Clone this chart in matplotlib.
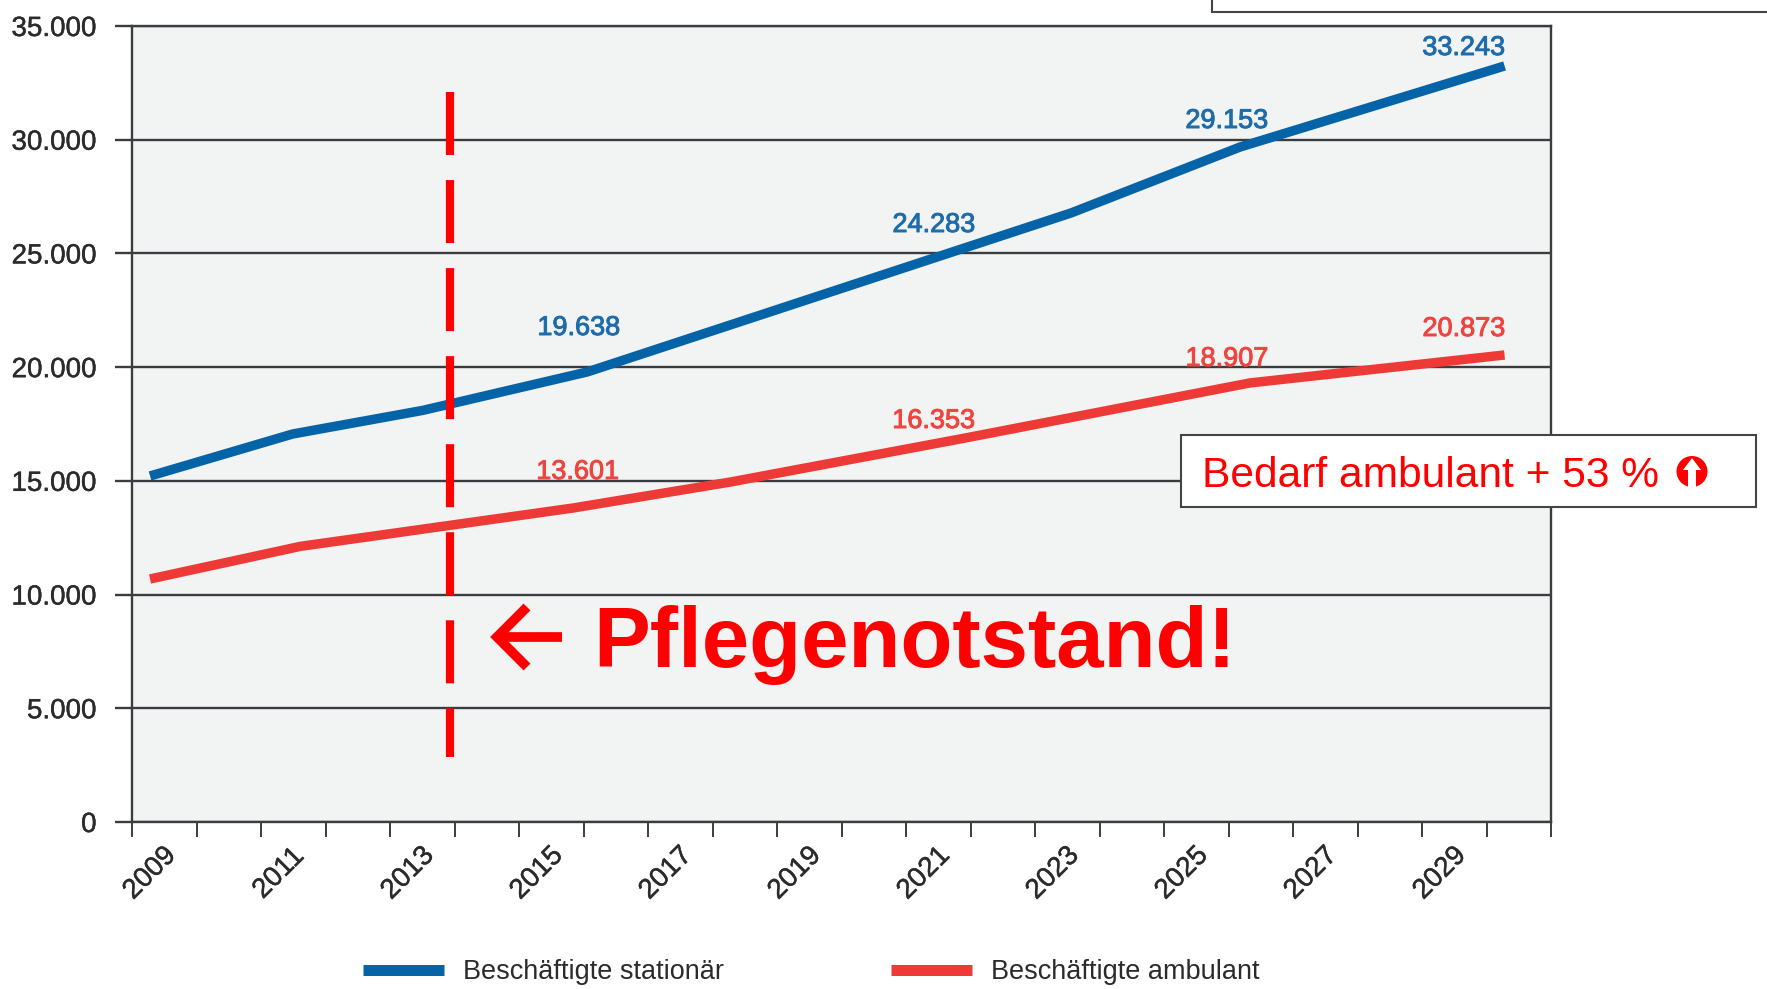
import matplotlib
matplotlib.use("Agg")
import matplotlib.pyplot as plt
import matplotlib.patheffects as pe
from matplotlib.lines import Line2D
from matplotlib.patches import Rectangle, Ellipse, Polygon

W, H = 1767, 989
tick_label_years = list(range(2009, 2030, 2))
yticks = [0, 5000, 10000, 15000, 20000, 25000, 30000, 35000]
ytick_labels = ["0", "5.000", "10.000", "15.000", "20.000", "25.000", "30.000", "35.000"]

stat_years = [2009, 2011.21, 2013.23, 2015.78, 2023.28, 2025.9, 2030]
stationaer = [15214, 17060, 18100, 19790, 26780, 29680, 33243]
amb_years = [2009, 2011.33, 2015.56, 2018, 2021.64, 2026.05, 2030]
ambulant = [10686, 12120, 13807, 14950, 16885, 19305, 20535]

stat_labels = ["19.638", "24.283", "29.153", "33.243"]
amb_labels = ["13.601", "16.353", "18.907", "20.873"]

sans = "Liberation Sans"
BLUE, RED, PURE = "#0563a8", "#ee3a36", "#ff0000"
DARK = "#3a3c40"
TXT = "#2b2b2b"


def bolden(w, color):
    return [pe.withStroke(linewidth=w, foreground=color)]


fig = plt.figure(figsize=(W / 100, H / 100), dpi=100)
L, R, T, B = 132, 1551, 26, 822
ax = fig.add_axes([L / W, 1 - B / H, (R - L) / W, (B - T) / H])
ax.set_facecolor("#f2f3f3")
x0 = 2009 - 0.28
ax.set_xlim(x0, x0 + 22)
ax.set_ylim(0, 35000)
for s in ["left", "right", "top", "bottom"]:
    ax.spines[s].set_color(DARK)
    ax.spines[s].set_linewidth(1.7)

ax.set_yticks(yticks, ytick_labels, family=sans, fontsize=20, color=TXT)
ax.tick_params(axis="y", length=12, width=1.7, color=DARK, pad=13.5)
ax.grid(axis="y", color=DARK, lw=1.7, zorder=1)
ax.set_axisbelow(True)

ax.set_xticks(tick_label_years, [str(y) for y in tick_label_years], rotation=45, ha="center", va="center",
              rotation_mode="anchor", family=sans, fontsize=20, color=TXT)
ax.tick_params(axis="x", which="major", length=0, pad=37)
ax.set_xticks([x0 + i for i in range(23)], minor=True)
ax.tick_params(axis="x", which="minor", length=10.8, width=1.4, color=DARK)
for lab in ax.get_xticklabels() + ax.get_yticklabels():
    lab.set_path_effects(bolden(0.3, TXT))

ax.plot(stat_years, stationaer, color=BLUE, lw=6.8, solid_capstyle="butt", solid_joinstyle="round",
        label="Beschäftigte stationär", zorder=3)
ax.plot(amb_years, ambulant, color=RED, lw=6.8, solid_capstyle="butt", solid_joinstyle="round",
        label="Beschäftigte ambulant", zorder=3)


def px(x, y, txt, **kw):
    return fig.text(x / W, 1 - y / H, txt, **kw)


for x, y, t in zip([579, 934, 1227, 1464], [328, 225, 121, 48], stat_labels):
    px(x, y, t, ha="center", va="center", family=sans, fontsize=19.5, color="#1d6cab", zorder=5,
       path_effects=bolden(0.7, "#1d6cab"))
for x, y, t in zip([578, 934, 1227, 1464], [472, 421, 359, 329], amb_labels):
    px(x, y, t, ha="center", va="center", family=sans, fontsize=19.5, color="#ee4540", zorder=5,
       path_effects=bolden(0.7, "#ee4540"))

# dashed marker line
ax.plot([2013.65, 2013.65], [32100, 2860], color=PURE, lw=5.9, dashes=(63 / 8.19, 25 / 8.19),
        dash_capstyle="butt", zorder=4)

px(593, 645, "Pflegenotstand!", family=sans, fontsize=61.3, fontweight="bold", color=PURE,
   ha="left", va="center", zorder=6)


def P(x, y):
    return (x / W, 1 - y / H)


tr = fig.transFigure
for xs, ys in [([527, 497, 527], [607, 637, 667]), ([497, 562], [637, 637])]:
    pts = [P(a, b) for a, b in zip(xs, ys)]
    fig.add_artist(Line2D([p[0] for p in pts], [p[1] for p in pts], transform=tr, color=PURE, lw=7,
                          solid_capstyle="butt", solid_joinstyle="miter", zorder=6))

leg = ax.legend(loc="center left", bbox_to_anchor=((363 - L) / (R - L), (B - 972) / (B - T)), ncol=2, frameon=False,
                prop={"family": sans, "size": 19.5}, labelcolor=TXT, handlelength=3.0, handletextpad=0.7,
                columnspacing=6.15, borderpad=0, borderaxespad=0)
for h in leg.get_lines():
    h.set_linewidth(7.9)

fig.add_artist(Rectangle(P(1181, 507), 575 / W, 72 / H, transform=tr, fc="white", ec="#444444", lw=1.5, zorder=5))
fig.add_artist(Rectangle(P(1212, 12), 600 / W, 40 / H, transform=tr, fc="white", ec="#444444", lw=1.5, zorder=5))
px(1202, 476, "Bedarf ambulant + 53 %", family=sans, fontsize=30.6, color=PURE, ha="left", va="center", zorder=6)
fig.add_artist(Ellipse(P(1692, 471.5), 31 / W, 31 / H, transform=tr, fc=PURE, ec="none", zorder=6))
fig.add_artist(Polygon([P(1692, 458), P(1701, 470), P(1696, 470), P(1696, 488), P(1688, 488), P(1688, 470), P(1683, 470)],
                       transform=tr, fc="white", ec="none", zorder=7))
fig.savefig("out.png", dpi=100)
